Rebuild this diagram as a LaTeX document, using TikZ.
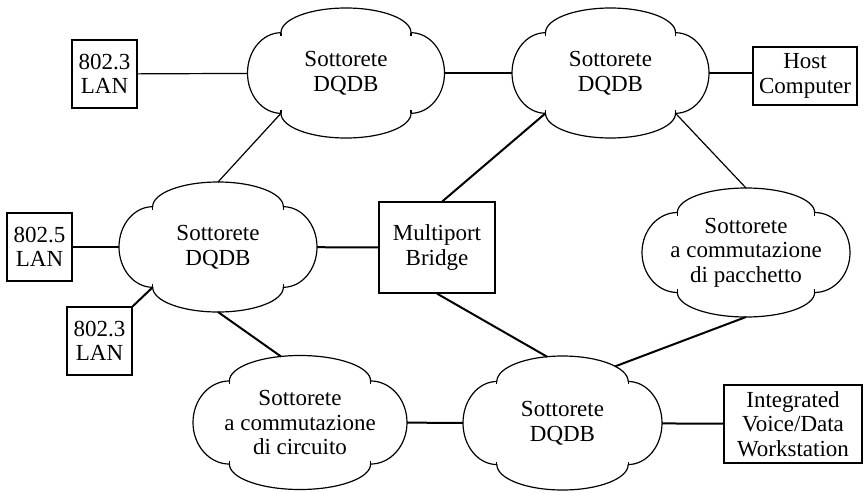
\documentclass[tikz,border=0pt]{standalone}
\usepackage{fontspec}
\setmainfont{Liberation Serif}
\usetikzlibrary{shapes.geometric}

% cloud: name, x, y, half width, half height, text
\newcommand{\subnet}[6]{%
  \pgfmathsetmacro{\cusL}{#2-0.66*#4}%
  \pgfmathsetmacro{\cusR}{#2+0.66*#4}%
  \pgfmathsetmacro{\cusT}{#3-0.62*#5}%
  \pgfmathsetmacro{\cusB}{#3+0.62*#5}%
  \pgfmathsetmacro{\ctlHx}{0.5523*0.66*#4}%
  \pgfmathsetmacro{\ctlHy}{0.5523*0.38*#5}%
  \pgfmathsetmacro{\ctlSx}{0.5523*0.34*#4}%
  \pgfmathsetmacro{\ctlSy}{0.5523*0.62*#5}%
  \node[cloudarea, minimum width={1.5pt*#4}, minimum height={1.5pt*#5}] (#1) at (#2,#3) {};
  \node[cloudtext] (#1-t) at (#1) {#6};
  \coordinate (#1-nw) at (\cusL,\cusT);
  \coordinate (#1-ne) at (\cusR,\cusT);
  \coordinate (#1-sw) at (\cusL,\cusB);
  \coordinate (#1-se) at (\cusR,\cusB);
  \draw[cloudline] (#1-nw)
    .. controls ({\cusL},{\cusT-\ctlHy}) and ({#2-\ctlHx},{#3-#5}) .. ({#2},{#3-#5})
    .. controls ({#2+\ctlHx},{#3-#5}) and ({\cusR},{\cusT-\ctlHy}) .. (#1-ne)
    .. controls ({\cusR+\ctlSx},{\cusT}) and ({#2+#4},{#3-\ctlSy}) .. ({#2+#4},{#3})
    .. controls ({#2+#4},{#3+\ctlSy}) and ({\cusR+\ctlSx},{\cusB}) .. (#1-se)
    .. controls ({\cusR},{\cusB+\ctlHy}) and ({#2+\ctlHx},{#3+#5}) .. ({#2},{#3+#5})
    .. controls ({#2-\ctlHx},{#3+#5}) and ({\cusL},{\cusB+\ctlHy}) .. (#1-sw)
    .. controls ({\cusL-\ctlSx},{\cusB}) and ({#2-#4},{#3+\ctlSy}) .. ({#2-#4},{#3})
    .. controls ({#2-#4},{#3-\ctlSy}) and ({\cusL-\ctlSx},{\cusT}) .. cycle;
  \draw[cloudline] (#1-nw) -- ++(0,3) (#1-ne) -- ++(0,3)
    (#1-sw) -- ++(0,-3) (#1-se) -- ++(0,-3);
}

\begin{document}
\begin{tikzpicture}[
  x=0.75pt, y=-0.75pt,
  font=\fontsize{17.25pt}{18.5pt}\selectfont,
  box/.style={draw, line width=0.9pt, align=center, inner sep=0pt},
  cloudarea/.style={ellipse, inner sep=0pt, outer sep=0pt},
  cloudtext/.style={align=center, inner sep=0pt},
  cloudline/.style={line width=0.9pt},
  thinlink/.style={line width=0.9pt},
  thicklink/.style={line width=1.5pt}
]
  \useasboundingbox (0,0) rectangle (863,493);

  % Subnets
  \subnet{dqdbA}{346}{73}{98.5}{65}{Sottorete\\DQDB}
  \subnet{dqdbB}{610.5}{73}{98.5}{65}{Sottorete\\DQDB}
  \subnet{dqdbC}{218}{247}{99}{65}{Sottorete\\DQDB}
  \subnet{packet}{746}{252.5}{104}{64.5}{Sottorete\\a commutazione\\di pacchetto}
  \subnet{circuit}{300}{422.5}{107}{67}{Sottorete\\a commutazione\\di circuito}
  \subnet{dqdbF}{562.5}{423}{99.5}{67}{Sottorete\\DQDB}

  % LANs and stations
  \node[box, minimum width=48.75pt, minimum height=51pt] (lanA) at (104.5,74) {802.3\\LAN};
  \node[box, minimum width=78pt, minimum height=43.5pt] (host) at (805,76) {Host\\Computer};
  \node[box, minimum width=48.75pt, minimum height=51pt] (lanB) at (39.5,247) {802.5\\LAN};
  \node[box, minimum width=48.75pt, minimum height=51pt] (lanC) at (99.5,341) {802.3\\LAN};
  \node[box, minimum width=87pt, minimum height=68.25pt] (bridge) at (437,247.5) {Multiport\\Bridge};
  \node[box, minimum width=103.5pt, minimum height=58.5pt] (ws) at (793,424) {Integrated\\Voice/Data\\Workstation};

  % Links
  \draw[thinlink] (lanA) -- (dqdbA);
  \draw[thinlink] (dqdbA) -- (dqdbB);
  \draw[thinlink] (dqdbB.east) -- (dqdbB.east -| host.west);
  \draw[thinlink] (dqdbA-sw) -- (dqdbC.north);
  \draw[thicklink] (dqdbB-sw) -- ([xshift=4pt]bridge.north);
  \draw[thinlink] (dqdbB-se) -- (packet.north);
  \draw[thicklink] (dqdbC) -- (lanB);
  \draw[thicklink] (dqdbC-sw) -- (lanC.north east);
  \draw[thicklink] (dqdbC) -- (bridge);
  \draw[thicklink] (dqdbC.south) -- (circuit.106);
  \draw[thicklink] (bridge.south) -- (dqdbF.103);
  \draw[thicklink] (packet.south) -- (dqdbF.47);
  \draw[thicklink] (circuit) -- (dqdbF);
  \draw[thicklink] (dqdbF) -- (ws);

\end{tikzpicture}
\end{document}
